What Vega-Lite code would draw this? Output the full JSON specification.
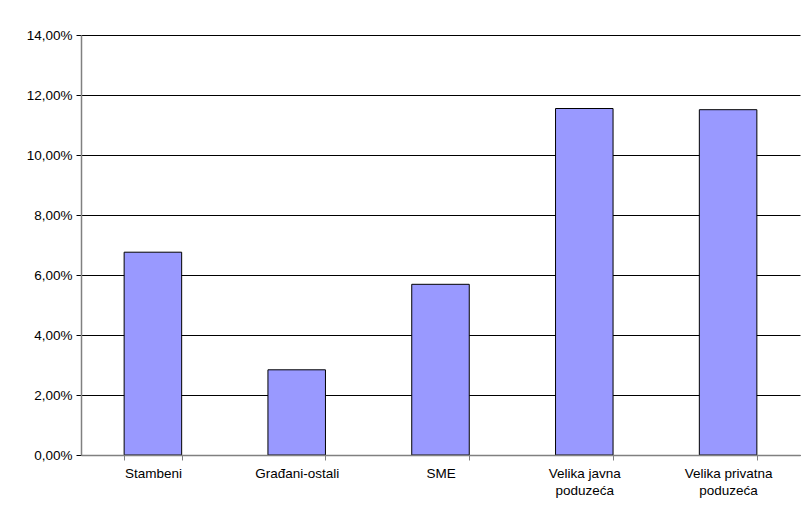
{
  "$schema": "https://vega.github.io/schema/vega-lite/v6.json",
  "width": 719,
  "height": 420,
  "autosize": {"type": "none"},
  "padding": {"left": 81, "top": 35, "right": 2, "bottom": 60},
  "background": "white",
  "config": {
    "view": {"stroke": null},
    "font": "Liberation Sans"
  },
  "data": {
    "values": [
      {"kategorija": "Stambeni", "udio": 0.0676},
      {"kategorija": "Građani-ostali", "udio": 0.0284},
      {"kategorija": "SME", "udio": 0.0569},
      {"kategorija": "Velika javna|poduzeća", "udio": 0.1155},
      {"kategorija": "Velika privatna|poduzeća", "udio": 0.1151}
    ]
  },
  "mark": {"type": "bar", "fill": "#9999FF", "stroke": "#000000", "strokeWidth": 1},
  "encoding": {
    "x": {
      "field": "kategorija",
      "type": "nominal",
      "sort": null,
      "scale": {"paddingInner": 0.6, "paddingOuter": 0.3},
      "axis": {
        "title": null,
        "labelAngle": 0,
        "labelExpr": "split(datum.label, '|')",
        "labelFontSize": 13.5,
        "labelColor": "#000000",
        "labelLineHeight": 17.5,
        "labelPadding": 6,
        "labelLimit": 200,
        "tickBand": "extent",
        "tickSize": 5,
        "tickColor": "#808080",
        "domainColor": "#808080",
        "domainWidth": 1.5,
        "grid": false,
        "zindex": 1
      }
    },
    "y": {
      "field": "udio",
      "type": "quantitative",
      "scale": {"domain": [0, 0.14], "nice": false},
      "axis": {
        "title": null,
        "values": [0, 0.02, 0.04, 0.06, 0.08, 0.1, 0.12, 0.14],
        "labelExpr": "replace(format(datum.value, '.2%'), '.', ',')",
        "labelFontSize": 13.5,
        "labelColor": "#000000",
        "labelPadding": 4,
        "tickSize": 5,
        "tickColor": "#000000",
        "domainColor": "#808080",
        "domainWidth": 1.5,
        "grid": true,
        "gridColor": "#000000",
        "gridWidth": 1,
        "gridOpacity": 1
      }
    }
  }
}
